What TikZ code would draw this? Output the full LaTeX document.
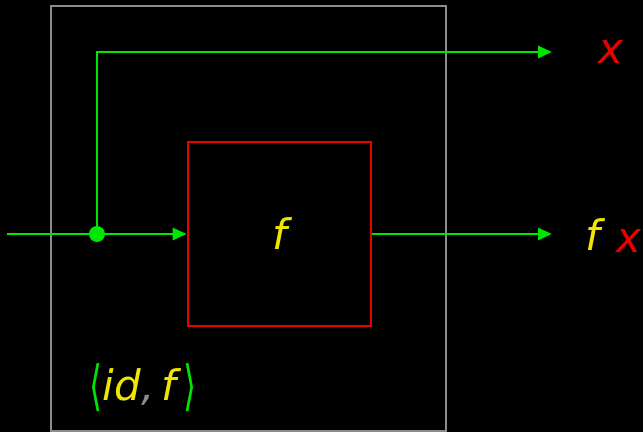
\documentclass[tikz,border=0pt]{standalone}
\usepackage{fontspec}
\usepackage{graphicx}
\setmainfont{DejaVu Sans}
\usetikzlibrary{arrows.meta}
\definecolor{wire}{RGB}{0,230,0}
\definecolor{boxred}{RGB}{235,0,0}
\definecolor{ylw}{RGB}{240,230,0}
\definecolor{gry}{RGB}{140,140,140}
\newcommand{\bigbr}[1]{\raisebox{-4pt}{\resizebox*{13pt}{48pt}{\fontsize{38}{38}\selectfont\upshape #1}}}
\begin{document}
\begin{tikzpicture}[x=1pt,y=-1pt,
  wireline/.style={draw=wire,line width=2.8pt},
  arr/.style={wireline,-{Triangle[length=14pt,width=12pt]}},
  lbl/.style={font=\fontsize{42}{42}\selectfont\itshape,inner sep=0pt}]
\fill[black] (0,0) rectangle (643,432);
\useasboundingbox (0,0) rectangle (643,432);
\node[draw=gry,line width=2.6pt,minimum width=395pt,minimum height=425pt,inner sep=0pt] (outer) at (248.5,218.5) {};
\node[draw=boxred,line width=2.6pt,minimum width=183pt,minimum height=184pt,inner sep=0pt,text=ylw,lbl] (fbox) at (279.5,234) {f};
\coordinate (in) at (7,234);
\coordinate (split) at (97,234);
\coordinate (corner) at (97,52);
\coordinate (outx) at (552,52);
\coordinate (outfx) at (552,234);
\draw[wireline] (in) -- (split);
\draw[arr] (split) -- (fbox.west);
\draw[arr] (split) -- (corner) -- (outx);
\draw[arr] (fbox.east) -- (outfx);
\fill[wire] (split) circle (8pt);
\node[lbl,text=boxred,anchor=base] (lx) at (611,63) {x};
\node[lbl,text=ylw,anchor=base] (lf) at (593,250) {f};
\node[lbl,text=boxred,anchor=base] (lx2) at (629,252) {x};
\node[lbl,anchor=base] (pair) at (143,400) {\textcolor{wire}{\bigbr{⟨}}\textcolor{ylw}{id}\textcolor{gry}{,}\,\textcolor{ylw}{f}\,\textcolor{wire}{\bigbr{⟩}}};
\end{tikzpicture}
\end{document}
